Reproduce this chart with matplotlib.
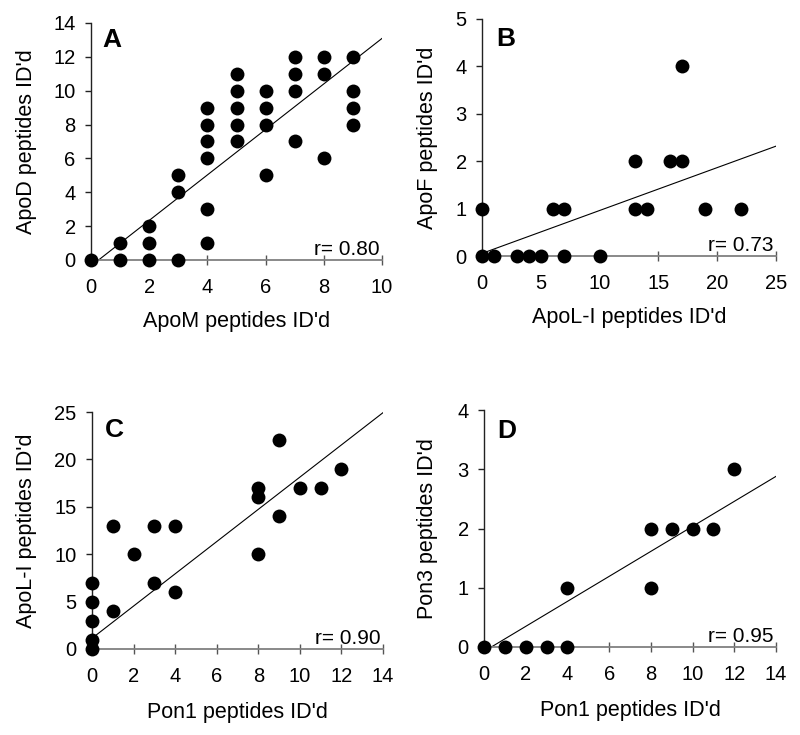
import matplotlib
matplotlib.use("Agg")
import matplotlib.pyplot as plt
import numpy as np

plt.rcParams['font.family'] = ['Liberation Sans', 'DejaVu Sans']

# Panel A: ApoM vs ApoD
a_x = [0, 1, 1, 2, 2, 2, 3, 3, 3, 4, 4, 4, 4, 4, 4, 5, 5, 5, 5, 5,
       6, 6, 6, 6, 7, 7, 7, 7, 8, 8, 8, 9, 9, 9, 9]
a_y = [0, 0, 1, 0, 1, 2, 0, 4, 5, 1, 3, 6, 7, 8, 9, 7, 8, 9, 10, 11,
       5, 8, 9, 10, 7, 10, 11, 12, 6, 11, 12, 8, 9, 10, 12]
a_fit = (1.344, -0.35)
a_r = "r= 0.80"

# Panel B: ApoL-I vs ApoF
b_x = [0, 0, 1, 3, 4, 5, 6, 7, 7, 10, 13, 13, 14, 16, 17, 17, 19, 22]
b_y = [1, 0, 0, 0, 0, 0, 1, 1, 0, 0, 2, 1, 1, 2, 2, 4, 1, 1]
b_fit = (0.0905, 0.055)
b_r = "r= 0.73"

# Panel C: Pon1 vs ApoL-I
c_x = [0, 0, 0, 0, 0, 1, 1, 2, 3, 3, 4, 4, 8, 8, 8, 9, 9, 10, 11, 12]
c_y = [0, 1, 3, 5, 7, 13, 4, 10, 13, 7, 13, 6, 17, 16, 10, 22, 14, 17, 17, 19]
c_fit = (1.70, 1.13)
c_r = "r= 0.90"

# Panel D: Pon1 vs Pon3
d_x = [0, 1, 2, 3, 4, 4, 8, 8, 9, 10, 11, 12]
d_y = [0, 0, 0, 0, 0, 1, 2, 1, 2, 2, 2, 3]
d_fit = (0.211, -0.074)
d_r = "r= 0.95"

panels = [
    dict(x=a_x, y=a_y, fit=a_fit, r=a_r, letter="A", xlim=10, xstep=2, ylim=14, ystep=2,
         xlabel="ApoM peptides ID'd", ylabel="ApoD peptides ID'd",
         rect=[91, 382, 23, 260], ylc=-0.187, xlc=-0.215, lpos=(0.038, 0.979)),
    dict(x=b_x, y=b_y, fit=b_fit, r=b_r, letter="B", xlim=25, xstep=5, ylim=5, ystep=1,
         xlabel="ApoL-I peptides ID'd", ylabel="ApoF peptides ID'd",
         rect=[482, 776, 19, 256], ylc=-0.151, xlc=-0.215, lpos=(0.05, 0.966)),
    dict(x=c_x, y=c_y, fit=c_fit, r=c_r, letter="C", xlim=14, xstep=2, ylim=25, ystep=5,
         xlabel="Pon1 peptides ID'd", ylabel="ApoL-I peptides ID'd",
         rect=[92, 383, 412, 649], ylc=-0.19, xlc=-0.224, lpos=(0.045, 0.975)),
    dict(x=d_x, y=d_y, fit=d_fit, r=d_r, letter="D", xlim=14, xstep=2, ylim=4, ystep=1,
         xlabel="Pon1 peptides ID'd", ylabel="Pon3 peptides ID'd",
         rect=[484, 776, 410, 647], ylc=-0.159, xlc=-0.224, lpos=(0.045, 0.962)),
]

W, H = 800, 735
fig = plt.figure(figsize=(W / 100, H / 100), dpi=100)

for p in panels:
    l, r, t, b = p["rect"]
    ax = fig.add_axes([l / W, 1 - b / H, (r - l) / W, (b - t) / H])
    ax.set_xlim(0, p["xlim"])
    ax.set_ylim(0, p["ylim"])
    xs = np.linspace(0, p["xlim"], 100)
    ax.plot(xs, p["fit"][0] * xs + p["fit"][1], color="black", lw=0.8, zorder=2)
    ax.scatter(p["x"], p["y"], s=100, color="black", zorder=3, clip_on=False, linewidths=0)
    ax.spines["top"].set_visible(False)
    ax.spines["right"].set_visible(False)
    ax.spines["left"].set_color("#222222")
    ax.spines["bottom"].set_color("#808080")
    ax.spines["left"].set_linewidth(1.0)
    ax.spines["bottom"].set_linewidth(1.3)
    ax.set_xticks(np.arange(0, p["xlim"] + 0.01, p["xstep"]))
    ax.set_yticks(np.arange(0, p["ylim"] + 0.01, p["ystep"]))
    ax.tick_params(axis="x", direction="inout", length=7, width=1.0, color="#555555",
                   labelsize=14.5, pad=9.5)
    ax.tick_params(axis="y", direction="out", length=4, width=1.0, color="#222222",
                   labelsize=14.5, pad=7)
    ax.set_xlabel(p["xlabel"], fontsize=15.5)
    ax.set_ylabel(p["ylabel"], fontsize=15.5)
    ax.xaxis.set_label_coords(0.5, p["xlc"])
    ax.yaxis.set_label_coords(p["ylc"], 0.5)
    ax.text(p["lpos"][0], p["lpos"][1], p["letter"], transform=ax.transAxes, fontsize=19,
            fontweight="bold", va="top", ha="left")
    ax.text(0.992, 0.023, p["r"], transform=ax.transAxes, fontsize=15,
            va="baseline", ha="right")
    ax.set_facecolor("none")

fig.savefig("out.png", dpi=100)
